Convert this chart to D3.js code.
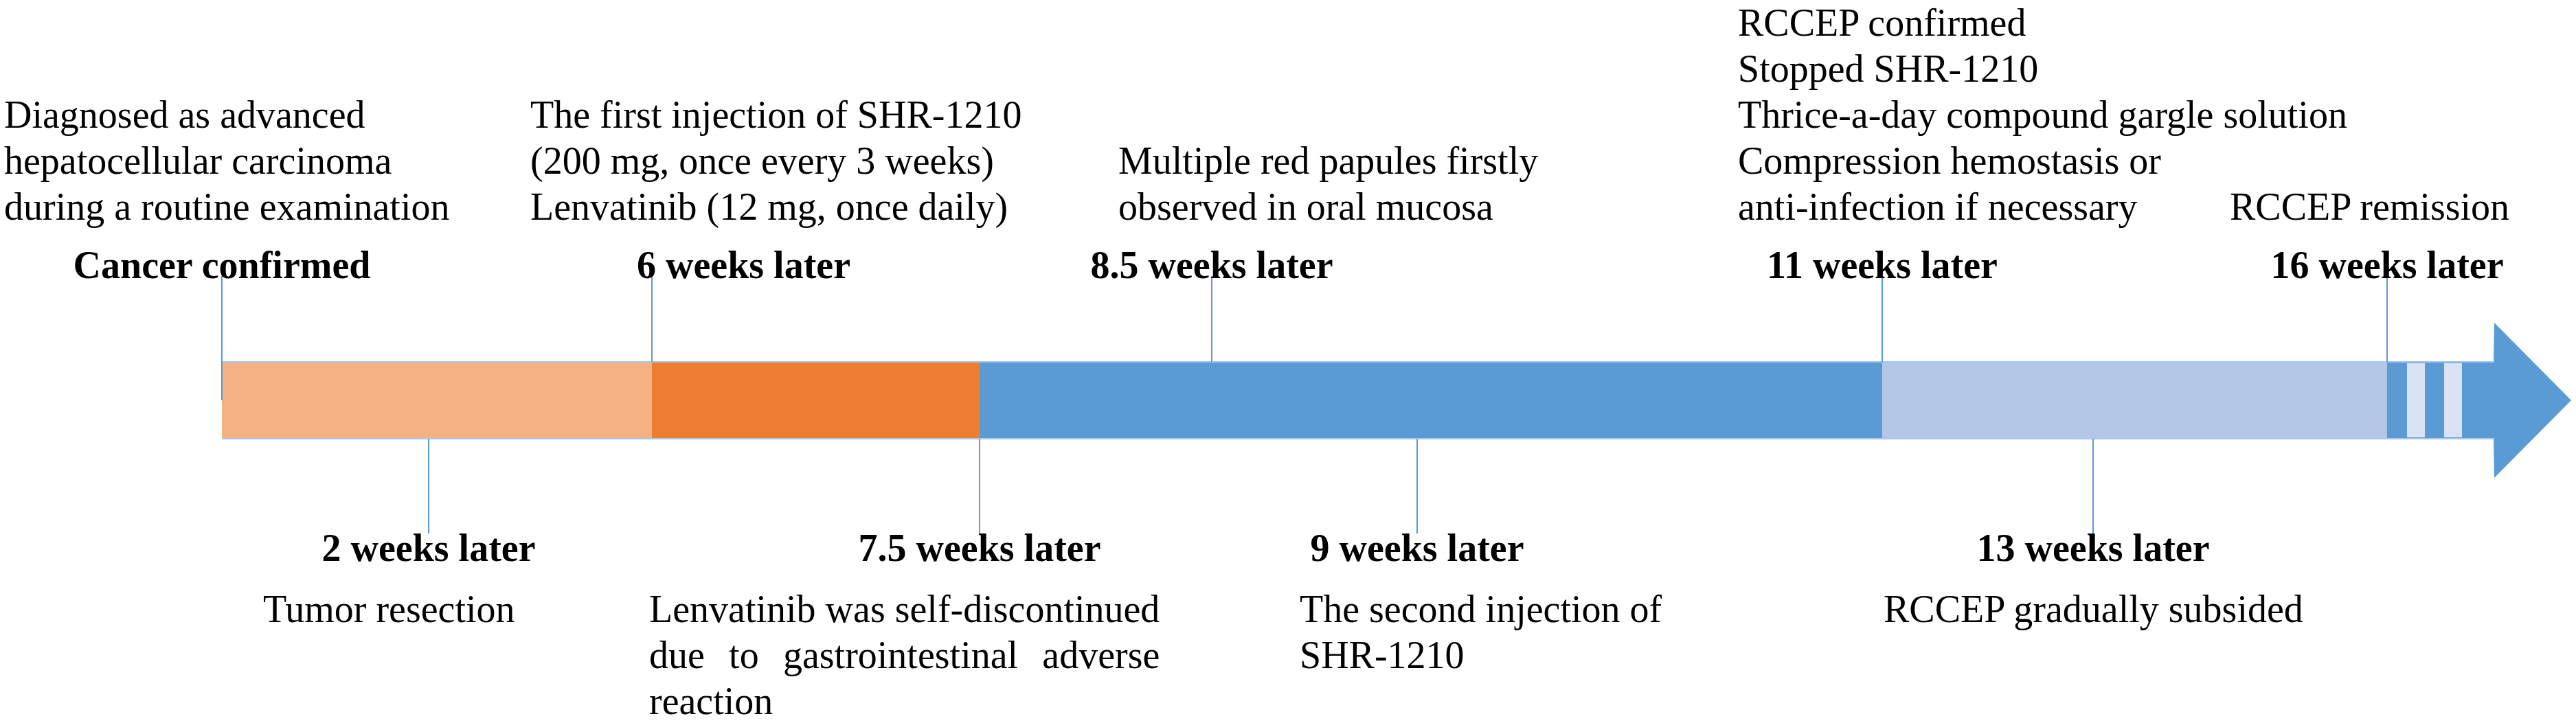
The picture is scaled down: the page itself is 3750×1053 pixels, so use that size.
<!DOCTYPE html>
<html>
<head>
<meta charset="utf-8">
<script src="https://cdn.jsdelivr.net/npm/d3@7"></script>
<style>
  body { margin: 0; background: #fff; }
  text { font-family: "Liberation Serif", "Times New Roman", Times, serif; fill: #000; }
</style>
</head>
<body>
<svg width="3750" height="1053"></svg>
<script>
// timeline data (weeks after diagnosis)
const phaseStarts = [0, 6, 7.5, 11];
const phaseEnds = [6, 7.5, 11, 16];
const phaseColors = ['#F4B183', '#ED7D31', '#5B9BD5', '#B4C7E7'];

const topWeeks = [0, 6, 8.5, 11, 16];
const topLabels = ['Cancer confirmed', '6 weeks later', '8.5 weeks later', '11 weeks later', '16 weeks later'];
const topNotes = [
    ['Diagnosed as advanced', 'hepatocellular carcinoma', 'during a routine examination'],
    ['The first injection of SHR-1210', '(200 mg, once every 3 weeks)', 'Lenvatinib (12 mg, once daily)'],
    ['Multiple red papules firstly', 'observed in oral mucosa'],
    ['RCCEP confirmed', 'Stopped SHR-1210', 'Thrice-a-day compound gargle solution', 'Compression hemostasis or', 'anti-infection if necessary'],
    ['RCCEP remission']
];

const bottomWeeks = [2, 7.5, 9, 13];
const bottomLabels = ['2 weeks later', '7.5 weeks later', '9 weeks later', '13 weeks later'];
const bottomNotes = [
    ['Tumor resection'],
    ['Lenvatinib was self-discontinued', 'due to gastrointestinal adverse', 'reaction'],
    ['The second injection of', 'SHR-1210'],
    ['RCCEP gradually subsided']
];

// layout
const svg = d3.select('svg');
const fontSize = 56;
const lineH = 67;
const barTop = 527, barBottom = 639;
const barMid = (barTop + barBottom) / 2;
const lineColor = '#5B9BD5';

// schematic, piecewise time axis
const xScale = d3.scaleLinear()
    .domain([0, 2, 6, 7.5, 8.5, 9, 11, 13, 16])
    .range([323, 624, 949, 1426, 1764, 2063, 2740, 3047, 3475]);

// note block left edges relative to the event line, and bold label offsets
const topNoteDx = [-317, -177, -136, -210, -229];
const topLabelDx = [0, -22, 0, 0, 0];
const topLabelAnchor = ['middle', 'start', 'middle', 'middle', 'middle'];
const bottomNoteDx = [-241, -481, -171, -305];
const justifyBottom = [false, true, false, false];

const g = svg.append('g');

// phase bars
g.selectAll('rect.phase').data(phaseStarts)
    .enter().append('rect')
        .attr('class', 'phase')
        .attr('x', (d, i) => xScale(d))
        .attr('y', barTop)
        .attr('width', (d, i) => xScale(phaseEnds[i]) - xScale(d))
        .attr('height', barBottom - barTop)
        .attr('fill', (d, i) => phaseColors[i]);

// arrow tail beyond the last week
const tailStart = xScale(16);
const headBase = tailStart + 156;
const headTip = tailStart + 268;
const headHalf = 113;

g.append('rect')
    .attr('x', tailStart).attr('y', barTop)
    .attr('width', headBase - tailStart).attr('height', barBottom - barTop)
    .attr('fill', '#5B9BD5');

g.selectAll('rect.stripe').data([29, 83])
    .enter().append('rect')
        .attr('class', 'stripe')
        .attr('x', d => tailStart + d)
        .attr('y', barTop + 2)
        .attr('width', 26)
        .attr('height', barBottom - barTop - 4)
        .attr('fill', '#DAE3F3');

g.append('path')
    .attr('d', d3.line()([
        [headBase - 1, barTop],
        [headBase, barMid - headHalf],
        [headTip, barMid],
        [headBase, barMid + headHalf],
        [headBase - 1, barBottom]
    ]))
    .attr('fill', '#5B9BD5');

// thin outline on the bar edges
g.selectAll('line.edge').data([barTop, barBottom])
    .enter().append('line')
        .attr('class', 'edge')
        .attr('x1', xScale(0)).attr('x2', headBase)
        .attr('y1', d => d).attr('y2', d => d)
        .attr('stroke', '#A8C8EC')
        .attr('stroke-width', 2);

// connector lines
g.selectAll('line.top').data(topWeeks)
    .enter().append('line')
        .attr('class', 'top')
        .attr('x1', d => xScale(d)).attr('x2', d => xScale(d))
        .attr('y1', 402)
        .attr('y2', d => d === 0 ? barMid : barTop)
        .attr('stroke', lineColor)
        .attr('stroke-width', 2);

g.selectAll('line.bottom').data(bottomWeeks)
    .enter().append('line')
        .attr('class', 'bottom')
        .attr('x1', d => xScale(d)).attr('x2', d => xScale(d))
        .attr('y1', barBottom)
        .attr('y2', 777)
        .attr('stroke', lineColor)
        .attr('stroke-width', 2);

// bold time labels
g.selectAll('text.topLabel').data(topWeeks)
    .enter().append('text')
        .attr('class', 'topLabel')
        .attr('x', (d, i) => xScale(d) + topLabelDx[i])
        .attr('y', 405)
        .attr('text-anchor', (d, i) => topLabelAnchor[i])
        .attr('font-size', fontSize)
        .attr('font-weight', 'bold')
        .text((d, i) => topLabels[i]);

g.selectAll('text.bottomLabel').data(bottomWeeks)
    .enter().append('text')
        .attr('class', 'bottomLabel')
        .attr('x', d => xScale(d))
        .attr('y', 817)
        .attr('text-anchor', 'middle')
        .attr('font-size', fontSize)
        .attr('font-weight', 'bold')
        .text((d, i) => bottomLabels[i]);

// note blocks; top ones share the last baseline, bottom ones share the first
topWeeks.forEach((w, i) => {
    const lines = topNotes[i];
    const x0 = xScale(w) + topNoteDx[i];
    g.selectAll(null).data(lines)
        .enter().append('text')
            .attr('x', x0)
            .attr('y', (d, j) => 320 - (lines.length - 1 - j) * lineH)
            .attr('font-size', fontSize)
            .text(d => d);
});

bottomWeeks.forEach((w, i) => {
    const lines = bottomNotes[i];
    const x0 = xScale(w) + bottomNoteDx[i];
    const texts = g.selectAll(null).data(lines)
        .enter().append('text')
            .attr('x', x0)
            .attr('y', (d, j) => 906 + j * lineH)
            .attr('font-size', fontSize)
            .text(d => d);
    if (justifyBottom[i]) {
        const widths = texts.nodes().map(n => n.getComputedTextLength());
        const maxW = d3.max(widths);
        texts.each(function (d, j) {
            const gaps = d.split(' ').length - 1;
            if (j < lines.length - 1 && gaps > 0) {
                d3.select(this).attr('word-spacing', (maxW - widths[j]) / gaps);
            }
        });
    }
});
</script>
</body>
</html>
